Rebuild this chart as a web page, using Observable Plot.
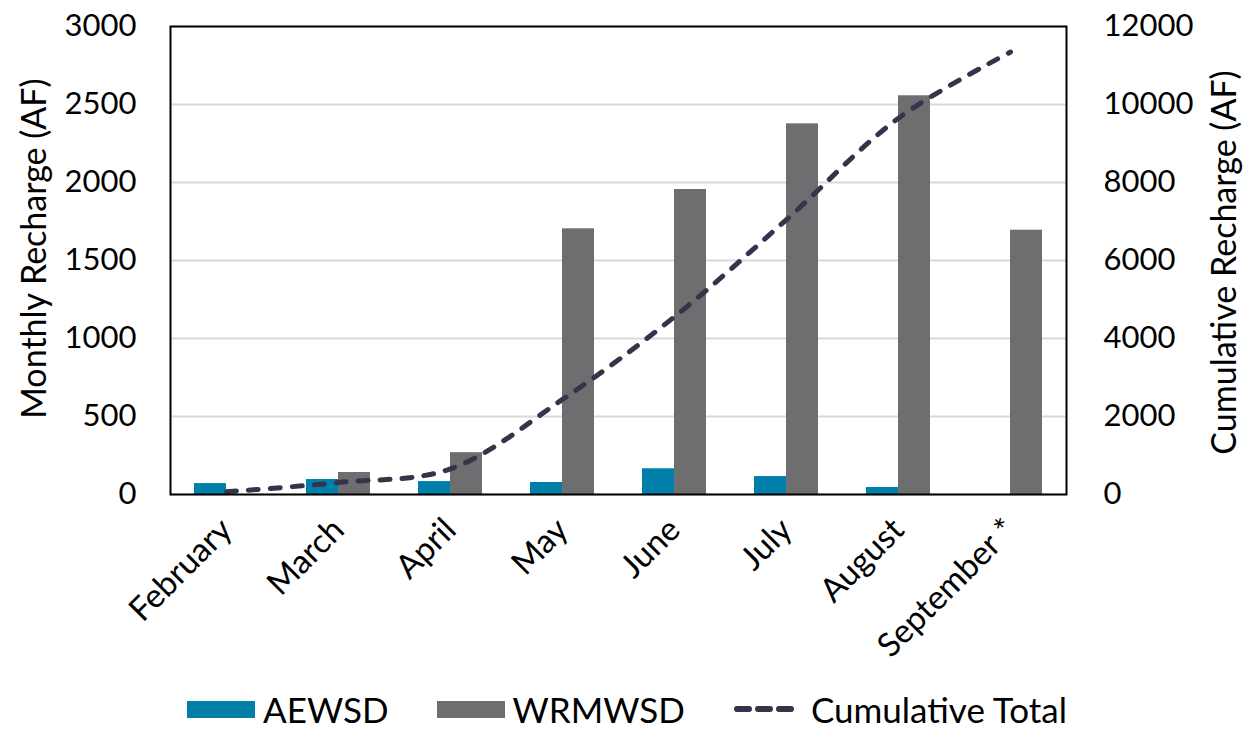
<!DOCTYPE html>
<html><head><meta charset="utf-8">
<script src="https://cdn.jsdelivr.net/npm/d3@7"></script>
<script src="https://cdn.jsdelivr.net/npm/@observablehq/plot@0.6"></script>
<style>
body{margin:0;background:#fff;font-family:Lato,"Open Sans",sans-serif;}
#chart svg{display:block;}
#legend{display:flex;justify-content:center;align-items:center;height:50px;font-size:35px;color:#000;margin-left:0px;margin-top:-6px;}
#legend .item{display:flex;align-items:center;margin:0 24px;}
#legend .sw{width:68px;height:17px;margin-right:8px;}
#legend svg{margin-right:10px;}
</style></head><body>
<div id="chart"></div>
<div id="legend"></div>
<script>
const months = ["February","March","April","May","June","July","August","September *"];
const aewsd = [70, 96, 83, 77, 165, 115, 45, 0];
const wrmwsd = [0, 141, 268, 1703, 1955, 2376, 2556, 1694];
const cumulative = [70, 307, 658, 2438, 4558, 7049, 9650, 11344];
const leftTicks = [0, 500, 1000, 1500, 2000, 2500, 3000];
const rightTicks = [0, 2000, 4000, 6000, 8000, 10000, 12000];
const seriesNames = ["AEWSD", "WRMWSD", "Cumulative Total"];
const colors = {AEWSD: "#0080A8", WRMWSD: "#6D6E70", line: "#35344A"};
const ratio = 12000 / 3000;

const data = months.map((m, i) => ({month: m, a: aewsd[i], w: wrmwsd[i], c: cumulative[i] / ratio}));

const chart = Plot.plot({
  width: 1254, height: 690,
  marginLeft: 170, marginRight: 188, marginTop: 26, marginBottom: 196,
  style: {fontFamily: "Lato, 'Open Sans', sans-serif", fontSize: "30px", color: "#000", background: "#fff", overflow: "visible"},
  x: {domain: months, padding: 0, label: null},
  y: {domain: [0, 3000], label: null},
  marks: [
    Plot.gridY(leftTicks, {stroke: "#d9d9d9", strokeOpacity: 1, strokeWidth: 2}),
    Plot.barY(data, {x: "month", y: "a", fill: colors.AEWSD, insetLeft: 24, insetRight: 56}),
    Plot.barY(data, {x: "month", y: "w", fill: colors.WRMWSD, insetLeft: 56, insetRight: 24}),
    Plot.line(data, {x: "month", y: "c", stroke: colors.line, strokeWidth: 5, strokeDasharray: "10,12", strokeLinecap: "round", curve: "catmull-rom"}),
    Plot.frame({stroke: "#000", strokeWidth: 2}),
    Plot.axisY(leftTicks, {anchor: "left", tickSize: 0, tickPadding: 34, fontSize: 31, label: null, tickFormat: d => String(d)}),
    Plot.axisY(rightTicks.map(t => t / ratio), {anchor: "right", tickSize: 0, tickPadding: 37, fontSize: 31, label: null, tickFormat: d => String(d * ratio)}),
    Plot.axisX({tickSize: 0, tickRotate: -45, tickPadding: 30, fontSize: 33, label: null}),
    Plot.text(["Monthly Recharge (AF)"], {frameAnchor: "left", textAnchor: "middle", dx: -135, dy: -12, rotate: -90, fontSize: 34}),
    Plot.text(["Cumulative Recharge (AF)"], {frameAnchor: "right", textAnchor: "middle", dx: 159, dy: 2, rotate: -90, fontSize: 34})
  ]
});
document.getElementById("chart").appendChild(chart);

const legend = document.getElementById("legend");
seriesNames.forEach((name, i) => {
  const item = document.createElement("div");
  item.className = "item";
  if (i < 2) {
    const sw = document.createElement("div");
    sw.className = "sw";
    sw.style.background = colors[name];
    item.appendChild(sw);
  } else {
    const ns = "http://www.w3.org/2000/svg";
    const s = document.createElementNS(ns, "svg");
    s.setAttribute("width", 68); s.setAttribute("height", 20);
    const l = document.createElementNS(ns, "line");
    l.setAttribute("x1", 4); l.setAttribute("x2", 64); l.setAttribute("y1", 10); l.setAttribute("y2", 10);
    l.setAttribute("stroke", colors.line); l.setAttribute("stroke-width", 6);
    l.setAttribute("stroke-dasharray", "12,9"); l.setAttribute("stroke-linecap", "round");
    s.appendChild(l);
    item.appendChild(s);
  }
  const t = document.createElement("span");
  t.textContent = name;
  item.appendChild(t);
  legend.appendChild(item);
});
</script>
</body></html>
